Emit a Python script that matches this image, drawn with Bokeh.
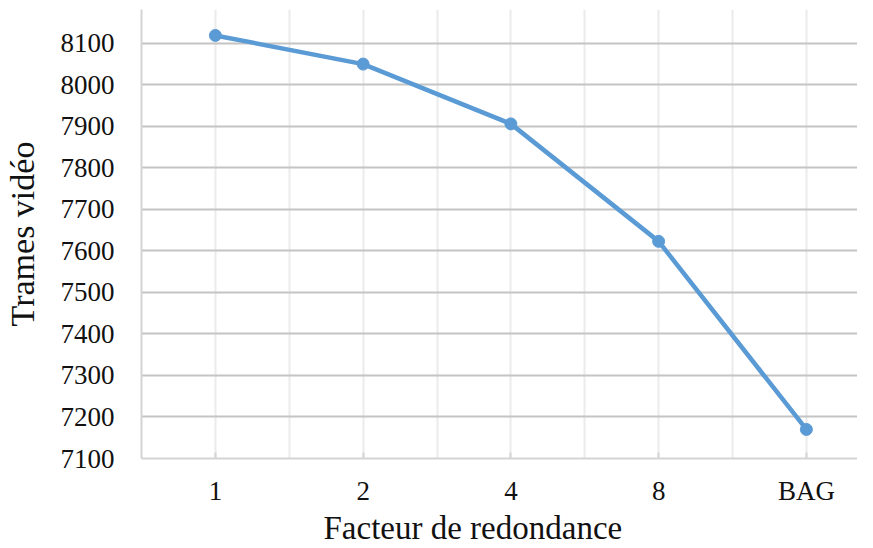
from bokeh.plotting import figure
from bokeh.models import FixedTicker, Range1d, ColumnDataSource, Title
from bokeh.embed import file_html
from bokeh.resources import INLINE

# Data
categories = ["1", "2", "4", "8", "BAG"]
frames = [8119, 8050, 7906, 7623, 7170]
y_ticks = [7100, 7200, 7300, 7400, 7500, 7600, 7700, 7800, 7900, 8000, 8100]
x_title = "Facteur de redondance"
y_title = "Trames vidéo"

x_pos = [i + 0.5 for i in range(len(categories))]
source = ColumnDataSource(data=dict(x=x_pos, y=frames, cat=categories))

FONT = "Liberation Serif"
BLUE = "#5b9bd5"
TXT = "#111111"

p = figure(width=857, height=546, output_backend="svg", toolbar_location=None,
           x_range=Range1d(0, 4.846), y_range=Range1d(7100, 8181.5),
           min_border_left=135, min_border_right=0, min_border_top=9,
           min_border_bottom=80)
p.outline_line_color = None
p.background_fill_color = "white"
p.border_fill_color = "white"

# x axis (categorical positions)
p.xaxis.ticker = FixedTicker(ticks=x_pos,
                             minor_ticks=[float(i) for i in range(len(categories) + 1)])
p.xaxis.major_label_overrides = {xp: c for xp, c in zip(x_pos, categories)}
p.xaxis.axis_line_color = "#d4d4d4"
p.xaxis.axis_line_width = 2
p.xaxis.major_tick_in = 6
p.xaxis.major_tick_out = 0
p.xaxis.major_tick_line_color = "#d4d4d4"
p.xaxis.major_tick_line_width = 2
p.xaxis.minor_tick_line_color = None
p.xaxis.major_label_standoff = 13

# x axis title, left-aligned under the plot as in the reference
p.add_layout(Title(text=x_title, align="left", offset=182, standoff=0,
                   vertical_align="middle",
                   text_font=FONT, text_font_size="33px",
                   text_font_style="normal", text_color=TXT), "below")

# y axis
p.yaxis.ticker = FixedTicker(ticks=y_ticks)
p.yaxis.axis_label = y_title
p.yaxis.axis_line_color = "#d4d4d4"
p.yaxis.axis_line_width = 2
p.yaxis.major_tick_line_color = None
p.yaxis.minor_tick_line_color = None
p.yaxis.major_tick_in = 0
p.yaxis.major_tick_out = 0
p.yaxis.major_label_standoff = 27
p.yaxis.axis_label_standoff = 17

for ax in (p.xaxis, p.yaxis):
    ax.major_label_text_font = FONT
    ax.major_label_text_font_size = "27px"
    ax.major_label_text_color = TXT
    ax.axis_label_text_font = FONT
    ax.axis_label_text_font_style = "normal"
    ax.axis_label_text_color = TXT
p.yaxis.axis_label_text_font_size = "34px"

# grids
p.ygrid.grid_line_color = "#c4c4c4"
p.ygrid.grid_line_width = 2
p.xgrid.grid_line_color = "#ebebeb"
p.xgrid.grid_line_width = 2
p.xgrid.minor_grid_line_color = "#ebebeb"
p.xgrid.minor_grid_line_width = 2

p.line("x", "y", source=source, line_color=BLUE, line_width=4.5)
p.scatter("x", "y", source=source, size=12, fill_color=BLUE, line_color=BLUE)

open("out.html", "w").write(file_html(p, INLINE))
